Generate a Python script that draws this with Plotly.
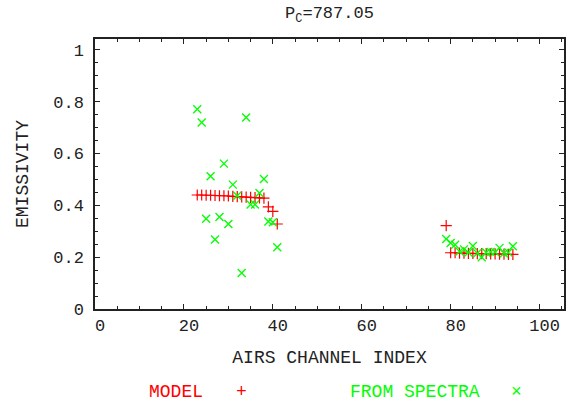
import plotly.graph_objects as go

# ---- data ----
model_channels = [23, 24, 25, 26, 27, 28, 29, 30, 31, 32, 33, 34, 35, 36, 37, 38, 39, 40, 41,
                  79, 80, 81, 82, 83, 84, 85, 86, 87, 88, 89, 90, 91, 92, 93, 94]
model_values = [0.440, 0.440, 0.439, 0.439, 0.438, 0.437, 0.437, 0.436, 0.435, 0.434,
                0.433, 0.432, 0.431, 0.430, 0.429, 0.428, 0.394, 0.377, 0.328,
                0.322, 0.217, 0.217, 0.216, 0.216, 0.215, 0.215, 0.214, 0.214, 0.214,
                0.213, 0.213, 0.212, 0.212, 0.211, 0.211]

spectra_channels = [23, 24, 25, 26, 27, 28, 29, 30, 31, 32, 33, 34, 35, 36, 37, 38, 39, 40, 41,
                    79, 80, 81, 82, 83, 84, 85, 86, 87, 88, 89, 90, 91, 92, 93, 94]
spectra_values = [0.771, 0.720, 0.348, 0.512, 0.268, 0.355, 0.561, 0.328, 0.480, 0.437,
                  0.139, 0.739, 0.403, 0.403, 0.448, 0.502, 0.338, 0.335, 0.238,
                  0.270, 0.255, 0.248, 0.222, 0.230, 0.218, 0.243, 0.215, 0.200, 0.218,
                  0.220, 0.220, 0.236, 0.215, 0.218, 0.242]

title_text = "P<sub>C</sub>=787.05"
x_title = "AIRS CHANNEL INDEX"
y_title = "EMISSIVITY"
legend_names = ["MODEL", "FROM SPECTRA"]
legend_symbols = ["+", "×"]

RED = "#ff0000"
GREEN = "#00ff00"
FONT = "Liberation Mono"
TXT = "#222222"

fig = go.Figure()
fig.add_trace(go.Scatter(
    x=model_channels, y=model_values, mode="markers", name=legend_names[0],
    marker=dict(symbol="cross-thin", size=8, color=RED, line=dict(color=RED, width=1.2)),
    showlegend=False))
fig.add_trace(go.Scatter(
    x=spectra_channels, y=spectra_values, mode="markers", name=legend_names[1],
    marker=dict(symbol="x-thin", size=8, color=GREEN, line=dict(color=GREEN, width=1.3)),
    showlegend=False))

axis_common = dict(
    showline=True, linecolor="#222222", linewidth=1.5, mirror="ticks",
    ticks="inside", ticklen=5, tickwidth=1, tickcolor="#222222",
    showgrid=False, zeroline=False, automargin=False,
    tickfont=dict(family=FONT, size=17, color=TXT),
)

fig.update_xaxes(range=[0, 105.5], dtick=20, tick0=0,
                 minor=dict(dtick=5, ticks="inside", ticklen=3, tickcolor="#222222"),
                 ticklabelshift=5,
                 title=dict(text=x_title, font=dict(family=FONT, size=18, color=TXT), standoff=15),
                 **axis_common)
fig.update_yaxes(range=[0, 1.042], dtick=0.2, tick0=0,
                 minor=dict(dtick=0.05, ticks="inside", ticklen=3, tickcolor="#222222"),
                 ticklabelstandoff=6,
                 title=dict(text=y_title, font=dict(family=FONT, size=18, color=TXT), standoff=20),
                 **axis_common)

annotations = []
leg_items = [
    (legend_names[0], RED, 176), (legend_symbols[0], RED, 241),
    (legend_names[1], GREEN, 415), (legend_symbols[1], GREEN, 516),
]
for txt, col, px in leg_items:
    annotations.append(dict(
        text=txt, xref="paper", yref="paper",
        x=(px - 95) / 469.0, y=(309.5 - 393) / 270.5,
        xanchor="center", yanchor="middle", showarrow=False,
        font=dict(family=FONT, size=18, color=col)))

fig.update_layout(
    width=568, height=405,
    margin=dict(l=95, r=4, t=39, b=95.5, autoexpand=False),
    paper_bgcolor="white", plot_bgcolor="white",
    title=dict(text=title_text, x=0.5, xref="paper", y=1 - 12.5 / 405, yanchor="middle",
               font=dict(family=FONT, size=17, color=TXT), automargin=False),
    annotations=annotations,
)

fig.write_html("out.html", config={"displayModeBar": False},
               post_script="document.body.style.margin='0';")
